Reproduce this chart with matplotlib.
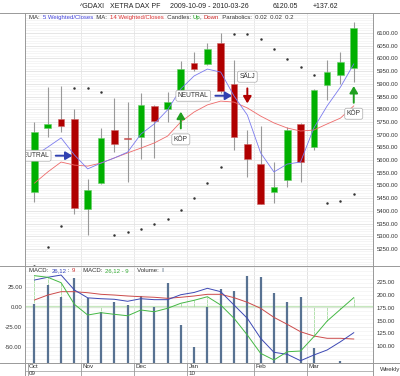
import matplotlib
matplotlib.use('Agg')
import matplotlib.pyplot as plt
from matplotlib.lines import Line2D
from matplotlib.ticker import MultipleLocator
import numpy as np

plt.rcParams['font.family'] = ['Liberation Sans', 'DejaVu Sans']

# weekly candles, 2009-10-09 .. 2010-03-26
weeks = np.arange(25)
opens = [5475, 5727, 5761, 5761, 5407, 5511, 5718, 5688, 5692, 5814, 5801, 5873, 5983,
         5978, 6062, 5898, 5662, 5584, 5473, 5521, 5742, 5652, 5895, 5935, 5963]
highs = [5750, 5889, 5891, 5801, 5524, 5727, 5844, 5827, 5863, 5818, 5869, 5991, 6026,
         6062, 6099, 5994, 5718, 5734, 5591, 5729, 5745, 5878, 5994, 6024, 6144]
lows = [5435, 5692, 5709, 5387, 5305, 5505, 5633, 5515, 5603, 5606, 5751, 5870, 5950,
        5975, 5863, 5639, 5534, 5425, 5430, 5495, 5512, 5639, 5836, 5898, 5908]
closes = [5709, 5742, 5735, 5410, 5482, 5685, 5662, 5683, 5817, 5755, 5830, 5957, 5957,
          6037, 5873, 5692, 5604, 5427, 5495, 5718, 5593, 5876, 5945, 5985, 6120]
ma5 = [5616, 5651, 5687, 5620, 5565, 5588, 5608, 5631, 5702, 5742, 5797, 5880, 5931,
       5958, 5946, 5852, 5777, 5628, 5553, 5584, 5592, 5726, 5813, 5887, 5978]
ma14 = [5509, 5553, 5592, 5580, 5576, 5588, 5608, 5628, 5647, 5667, 5694, 5750, 5789,
        5817, 5832, 5828, 5805, 5773, 5746, 5726, 5714, 5718, 5742, 5765, 5813]
sar = [5183, 5256, 5341, 5885, 5885, 5866, 5305, 5315, 5327, 5348, 5369, 5402, 5449,
       5508, 5574, 6096, 6096, 6076, 6036, 5998, 5967, 5935, 5430, 5439, 5465]

# signals: week, price at arrow tip, label
signal_week = [3, 15, 16, 11, 24]
signal_price = [5617, 5853, 5823, 5790, 5891]
signal_kind = ['NEUTRAL', 'NEUTRAL', 'SÄLJ', 'KÖP', 'KÖP']

# lower panel
volume = [60.5, 80.4, 67.7, 87.3, 66.7, 52.9, 63.2, 59.8, 69.1, 58.0, 82.8, 39.2, 16.5,
          58.0, 76.3, 74.2, 90.0, 88.4, 71.9, 62.6, 68.4, 16.2, 0, 2, 0]
macd = [33.4, 36.8, 39.6, 20.9, 11.1, 10.0, 9.3, 6.8, 10.0, 8.8, 8.8, 15.0, 17.8,
        23.0, 18.8, 2.1, -14.5, -39.5, -57.0, -59.5, -67.5, -60.4, -54.1, -43.8, -32.5]
macd_signal = [8.4, 14.6, 18.8, 18.8, 17.5, 15.5, 14.6, 13.4, 12.5, 11.8, 10.5, 11.8, 13.4,
               15.5, 15.5, 11.3, 5.5, -2.0, -13.3, -22.0, -31.3, -36.6, -39.5, -39.5, -40.4]
macd_green = [38.8, 36.8, 30.0, 3.0, -10.4, -7.5, -9.5, -11.3, -4.1, -6.3, -2.0, 4.3, 8.0,
              12.5, 2.1, -14.5, -35.4, -58.3, -66.6, -56.3, -55.4, -37.5, -17.9, -3.3, 11.3]

months = ['Oct', 'Nov', 'Dec', 'Jan', 'Feb', 'Mar']
month_start = [0, 4, 8, 12, 17, 21]
years = ['09', '10']
year_start = [0, 12]
price_ticks = np.arange(5250, 6101, 50)
macd_ticks = [25, 0, -25, -50]
right_ticks = [100, 125, 150, 175, 200, 225]

W, H = 400, 376
fig = plt.figure(figsize=(W / 100, H / 100), dpi=100)
XL = (-0.714, 25.47)
GREY = '#999999'

ax = fig.add_axes([25 / W, (H - 266) / H, 348.3 / W, 252.7 / H])
ax.set_xlim(XL)
ax.set_ylim(5182.7, 6177.6)
for s in ax.spines.values():
    s.set_visible(False)
ax.set_xticks([])
ax.yaxis.tick_right()
ax.set_yticks(price_ticks)
ax.set_yticklabels(['%.2f' % v for v in price_ticks])
ax.tick_params(axis='y', length=0, pad=2.5, labelsize=4.3, labelcolor='#333333')
ax.yaxis.set_minor_locator(MultipleLocator(10))
ax.grid(which='major', axis='y', color='#e2e2e2', lw=0.6)
ax.grid(which='minor', axis='y', color='#f1f1f1', lw=0.5)
ax.tick_params(which='minor', length=0)
for m in month_start[1:]:
    ax.axvline(m - 0.5, color='#e4e4e4', lw=0.6, zorder=0)

up = [c >= o for o, c in zip(opens, closes)]
body_col = ['#00b000' if u else '#b00000' for u in up]
edge_col = ['#66cc66' if u else '#cc6666' for u in up]
ax.vlines(weeks, lows, highs, color='#999999', lw=0.8, zorder=2)
bottoms = np.minimum(opens, closes)
heights = np.maximum(np.abs(np.array(closes) - np.array(opens)), 3)
ax.bar(weeks, heights, bottom=bottoms, width=0.5, color=body_col, edgecolor=edge_col,
       lw=0.4, zorder=3)
ax.plot(weeks, ma14, color='#ee6a6a', lw=0.6, zorder=4)
ax.plot(weeks, ma5, color='#7b7bee', lw=0.6, zorder=4)
ax.scatter(weeks, sar, s=0.6, color='#333333', zorder=4)

arrow_col = {'NEUTRAL': '#3040b0', 'SÄLJ': '#b00000', 'KÖP': '#20a020'}
tail_off = {'NEUTRAL': (-12, 0), 'SÄLJ': (0, 10.8), 'KÖP': (0, -12)}
label_off = {'NEUTRAL': (-27.9, 0), 'SÄLJ': (0, 19.2), 'KÖP': (0, -19.9)}
for wk, pr, kind in zip(signal_week, signal_price, signal_kind):
    tip = (wk - 0.15, pr) if kind == 'NEUTRAL' else (wk, pr)
    ax.annotate('', xy=tip, xytext=tail_off[kind], textcoords='offset points',
                arrowprops=dict(arrowstyle='-|>,head_width=0.3,head_length=0.5',
                                color=arrow_col[kind], lw=1.4, mutation_scale=8,
                                shrinkA=0, shrinkB=0), zorder=6)
    t = ax.annotate(kind, xy=tip, xytext=label_off[kind], textcoords='offset points',
                    ha='center', va='center', fontsize=4.8, color='#333333', zorder=7,
                    bbox=dict(boxstyle='round,pad=0.3,rounding_size=0.3', fc='white',
                              ec='#aaaaaa', lw=0.5))
    t.set_clip_on(True)
    t.set_clip_box(ax.bbox)

# lower panel
am = fig.add_axes([25 / W, (H - 363.3) / H, 348.3 / W, 97.3 / H])
am.set_xlim(XL)
am.set_ylim(-70.75, 50.9)
for s in am.spines.values():
    s.set_visible(False)
am.set_xticks([])
am.set_yticks(macd_ticks)
am.set_yticklabels(['%.2f' % v for v in macd_ticks])
am.tick_params(axis='y', length=0, pad=2, labelsize=4.3, labelcolor='#333333')
am.yaxis.set_minor_locator(MultipleLocator(5))
am.grid(which='major', axis='y', color='#e6e6e6', lw=0.5)
am.grid(which='minor', axis='y', color='#f3f3f3', lw=0.5)
am.tick_params(which='minor', length=0)
for m in month_start[1:]:
    am.axvline(m - 0.5, color='#dddddd', lw=0.6, zorder=0)
am.axhline(0, color='#c6e8be', lw=1.6, zorder=1)
am.vlines(weeks, 0, macd_green, color='#a6dca0', lw=0.6, zorder=1)

av = am.twinx()
av.set_xlim(XL)
av.set_ylim(0, 100)
av.axis('off')
av.vlines(weeks, 0, volume, color='#587292', lw=1.6)

al = am.twinx()
al.set_xlim(XL)
al.set_ylim(am.get_ylim())
al.axis('off')
al.plot(weeks, macd_signal, color='#cc4b4b', lw=0.7)
al.plot(weeks, macd, color='#3c48b4', lw=0.7)
al.plot(weeks, macd_green, color='#44b844', lw=0.7)

ar = am.twinx()
ar.set_ylim(67.2, 255.8)
for s in ar.spines.values():
    s.set_visible(False)
ar.set_yticks(right_ticks)
ar.set_yticklabels(['%.2f' % v for v in right_ticks])
ar.tick_params(axis='y', length=0, pad=2.5, labelsize=4.3, labelcolor='#333333')

# date strip under the lower panel
trans = am.get_xaxis_transform()
for m in month_start:
    am.plot([m - 0.5, m - 0.5], [-0.13, 0], transform=trans, color=GREY, lw=0.6,
            clip_on=False)
for name, m in zip(months, month_start):
    am.text(m - 0.42, -0.037, name, transform=trans, fontsize=4.5, color='#333333',
            ha='left', va='center')
for name, m in zip(years, year_start):
    am.text(m - 0.42, -0.107, name, transform=trans, fontsize=4.5, color='#333333',
            ha='left', va='center')
am.plot([XL[0], XL[1]], [-0.076, -0.076], transform=trans, color=GREY, lw=0.5,
        clip_on=False)
fig.text(380 / W, 1 - 369 / H, 'Weekly', fontsize=4.5, color='#333333', va='center')

# frame lines
for yy in (13.3, 266, 363.3):
    fig.add_artist(Line2D([0, 1], [1 - yy / H] * 2, color=GREY, lw=0.7))
for xx in (25, 373.3):
    fig.add_artist(Line2D([xx / W] * 2, [0, 1 - 13.3 / H], color=GREY, lw=0.7))

# header texts
for s, x in [('^GDAXI', 80), ('XETRA DAX PF', 110), ('2009-10-09 - 2010-03-26', 170),
             ('6120.05', 273), ('+137.62', 313)]:
    fig.text(x / W, 1 - 6 / H, s, fontsize=5, color='#222222', va='center')

rend = fig.canvas.get_renderer()


def rich_text(x, y, pieces, size=4.3):
    for s, c in pieces:
        t = fig.text(x / W, 1 - y / H, s, color=c, fontsize=size, va='center', ha='left')
        x += t.get_window_extent(rend).width


rich_text(29, 17.7, [('MA:  ', '#333333'), ('5 Weighted/Closes', '#4444dd'),
                     ('  MA:  ', '#333333'), ('14 Weighted/Closes', '#dd3333'),
                     ('  Candles: ', '#333333'), ('Up', '#119911'), (', ', '#333333'),
                     ('Down', '#cc2222'),
                     ('  Parabolics:  0.02  0.02  0.2', '#333333')])
rich_text(29, 270.7, [('MACD:  ', '#333333'), ('26,12', '#3344bb'), (' : ', '#333333'),
                      ('9', '#cc3333'), ('     MACD:  ', '#333333'),
                      ('26,12 - 9', '#33aa33'), ('     Volume:  ', '#333333'),
                      ('II', '#8899aa')])

fig.savefig('out.png', dpi=100)
